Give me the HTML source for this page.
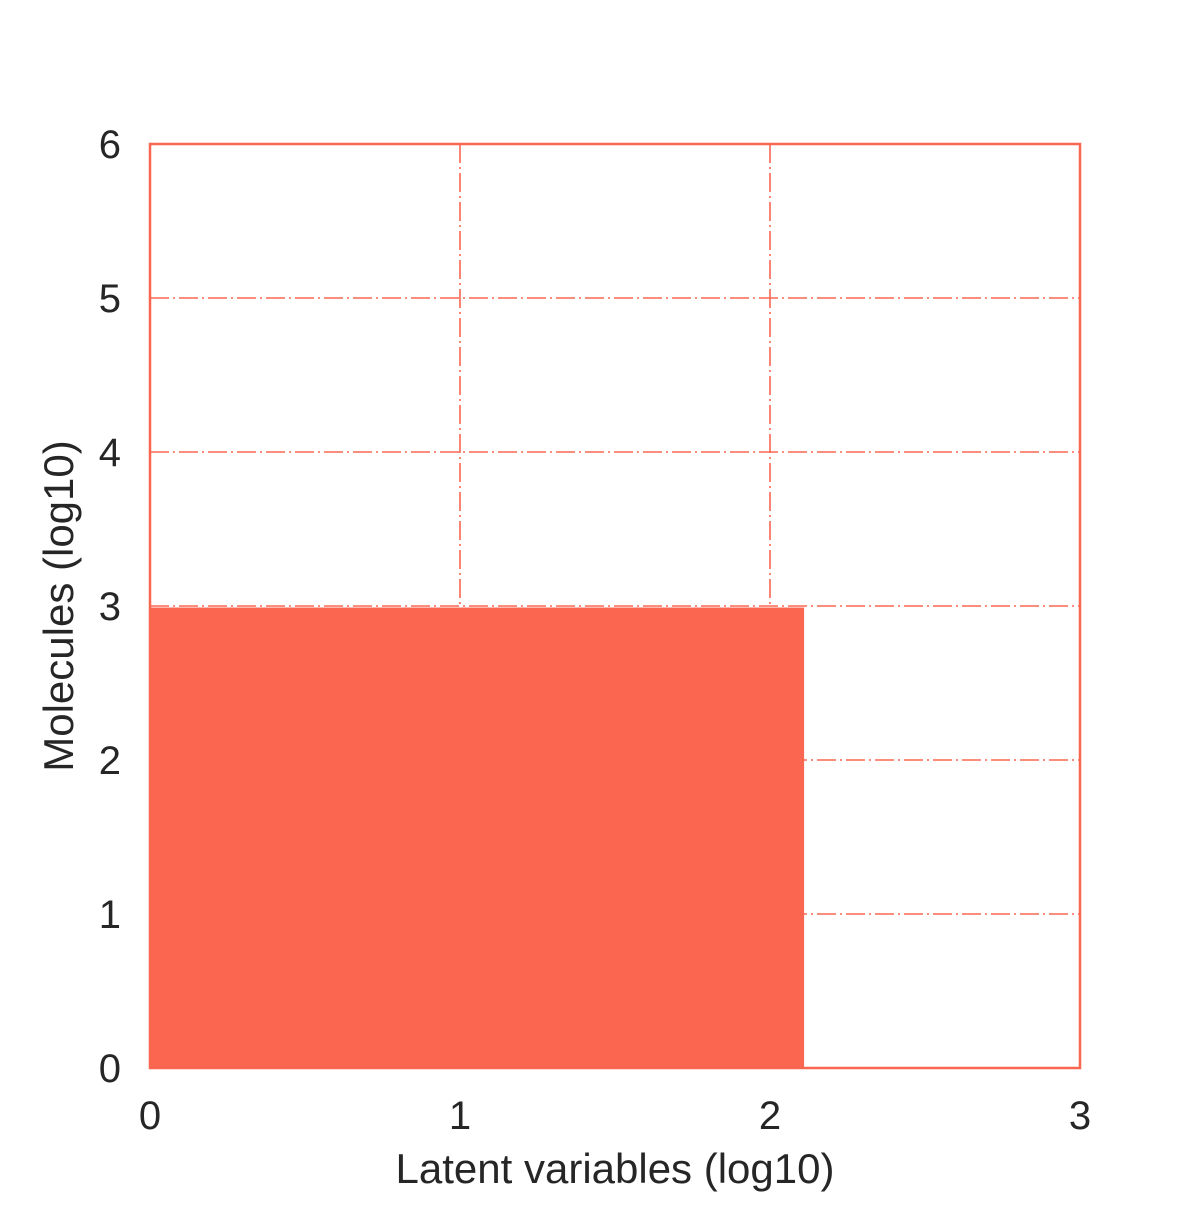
<!DOCTYPE html>
<html><head><meta charset="utf-8"><style>
html,body{margin:0;padding:0;background:#fff;}
svg text{font-family:"Liberation Sans",Arial,sans-serif;fill:#262626;}
</style></head><body>
<svg id="chart" width="1200" height="1200" xmlns="http://www.w3.org/2000/svg">
<g id="grid"></g>
<g id="bars"></g>
<rect x="150" y="144" width="930" height="924" fill="none" stroke="#fb6650" stroke-width="2.5"/>
<g id="ticks"></g>
<text x="615" y="1183" font-size="42" text-anchor="middle">Latent variables (log10)</text>
<text transform="translate(73,606) rotate(-90)" font-size="42" text-anchor="middle">Molecules (log10)</text>
</svg>
<script>
const xTicks=[0,1,2,3];
const yTicks=[0,1,2,3,4,5,6];
const regionX=[2.11];
const regionY=[2.99];
const NS='http://www.w3.org/2000/svg';
const X0=150,X1=1080,Y0=1068,Y1=144;
const xs=v=>X0+(v-0)/(3-0)*(X1-X0);
const ys=v=>Y0-(v-0)/(6-0)*(Y0-Y1);
const grid=document.getElementById('grid');
const ticks=document.getElementById('ticks');
function mk(tag,attrs,parent){const e=document.createElementNS(NS,tag);for(const k in attrs)e.setAttribute(k,attrs[k]);parent.appendChild(e);return e;}
xTicks.forEach(v=>{
  if(v>0&&v<3){const l=mk('line',{x1:xs(v),x2:xs(v),y1:Y1,y2:Y0,stroke:'#fb6650','stroke-width':1.6,'stroke-dasharray':'19 4 2 4'},grid);
  
  }
  const t=mk('text',{x:xs(v),y:1129,'font-size':40,'text-anchor':'middle'},ticks);t.textContent=v;
  
  
});
yTicks.forEach(v=>{
  if(v>0&&v<6){const l=mk('line',{x1:X0,x2:X1,y1:ys(v),y2:ys(v),stroke:'#fb6650','stroke-width':1.6,'stroke-dasharray':'19 4 2 4'},grid);
  
  }
  const t=mk('text',{x:121,y:ys(v)+14,'font-size':40,'text-anchor':'end'},ticks);t.textContent=v;
  
  
});
const bars=document.getElementById('bars');
regionX.forEach((xv,i)=>{
  const r=mk('rect',{x:xs(0)-1,y:ys(regionY[i]),width:xs(xv)-xs(0)+1,height:ys(0)-ys(regionY[i])+1,fill:'#fb6650'},bars);
  
  
});
</script>
</body></html>
